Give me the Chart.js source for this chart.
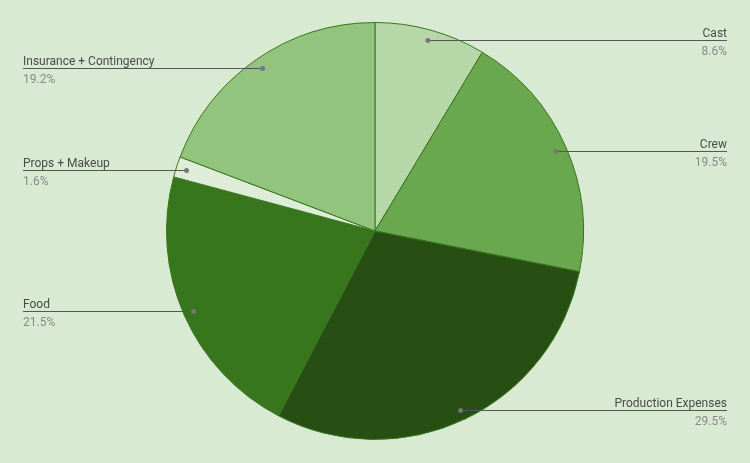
<!DOCTYPE html>
<html>
<head>
<meta charset="utf-8">
<script src="https://cdn.jsdelivr.net/npm/chart.js@4"></script>
<style>
  html, body { margin: 0; padding: 0; background: #d9ead3; }
  #wrap { width: 750px; height: 463px; }
</style>
</head>
<body>
<div id="wrap"><canvas id="budget_chart"></canvas></div>
<script>
const categories = ['Cast', 'Crew', 'Production Expenses', 'Food', 'Props + Makeup', 'Insurance + Contingency'];
const shares = [8.6, 19.5, 29.5, 21.5, 1.6, 19.2];
const sliceColors = ['#b6d7a8', '#6aa84f', '#274e13', '#38761d', '#deedd8', '#93c47d'];

// leader lines + labels, Sheets style
const leaderLabels = {
    id: 'leaderLabels',
    afterDraw(chart) {
        const ctx = chart.ctx;
        const arcs = chart.getDatasetMeta(0).data;
        ctx.save();
        arcs.forEach((arc, i) => {
            const mid = (arc.startAngle + arc.endAngle) / 2;
            const r = arc.outerRadius * 0.95;
            const px = arc.x + Math.cos(mid) * r;
            const py = Math.round(arc.y + Math.sin(mid) * r) + 0.5;
            const right = px > arc.x;
            const edge = right ? 727 : 23;

            ctx.strokeStyle = '#555555';
            ctx.lineWidth = 1;
            ctx.beginPath();
            ctx.moveTo(px, py);
            ctx.lineTo(edge, py);
            ctx.stroke();

            ctx.fillStyle = '#777777';
            ctx.beginPath();
            ctx.arc(px, py, 2.5, 0, Math.PI * 2);
            ctx.fill();

            ctx.textAlign = right ? 'right' : 'left';
            ctx.textBaseline = 'alphabetic';
            ctx.font = '12px Roboto';
            ctx.fillStyle = '#4a4a4a';
            ctx.fillText(categories[i], edge, py - 4);
            ctx.fillStyle = '#888888';
            ctx.fillText(shares[i].toFixed(1) + '%', edge, py + 14);
        });
        ctx.restore();
    }
};

const ctx = document.getElementById('budget_chart').getContext('2d');

new Chart(ctx, {
    type: 'pie',
    data: {
        labels: categories,
        datasets: [{
            data: shares,
            backgroundColor: sliceColors,
            borderColor: '#38761d',
            borderWidth: 1
        }]
    },
    options: {
        responsive: true,
        maintainAspectRatio: false,
        animation: false,
        layout: { padding: { top: 22, bottom: 23 } },
        plugins: {
            legend: { display: false },
            tooltip: { enabled: false }
        }
    },
    plugins: [leaderLabels]
});
</script>
</body>
</html>
